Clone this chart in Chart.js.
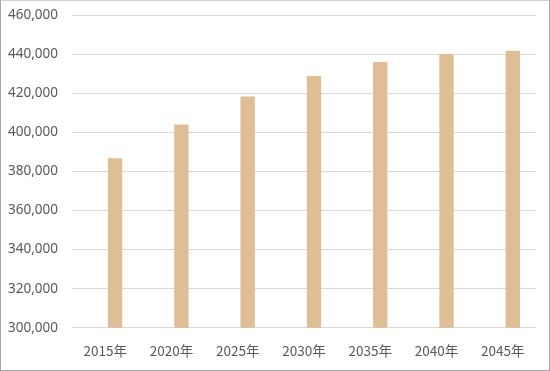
<!DOCTYPE html>
<html>
<head>
<meta charset="utf-8">
<script src="https://cdn.jsdelivr.net/npm/chart.js@4/dist/chart.umd.min.js"></script>
<style>
  html, body { margin: 0; padding: 0; background: #fff; }
  #wrap { width: 548px; height: 369px; border: 1px solid #a6a6a6; border-top-color: #d0d0d0; overflow: hidden; }
  canvas { display: block; }
</style>
</head>
<body>
<div id="wrap"><canvas id="chart1" width="548" height="373"></canvas></div>
<script>
const years = ['2015年', '2020年', '2025年', '2030年', '2035年', '2040年', '2045年'];
// 元グラフは2系列で1系列目が空のため、棒が目盛の右側にずれている
const emptySeries = [null, null, null, null, null, null, null];
const population = [386800, 404000, 418400, 428900, 436000, 440100, 441700];
const yMin = 300000;
const yMax = 460000;
const yStep = 20000;

const ctx = document.getElementById('chart1').getContext('2d');
new Chart(ctx, {
    type: 'bar',
    data: {
        labels: years,
        datasets: [{
            data: emptySeries,
            backgroundColor: 'rgba(0,0,0,0)',
            categoryPercentage: 0.6,
            barPercentage: 0.72
        }, {
            data: population,
            backgroundColor: '#dfbd95',
            categoryPercentage: 0.6,
            barPercentage: 0.72
        }]
    },
    options: {
        responsive: false,
        animation: false,
        layout: { padding: { left: 7, right: 13, top: 0, bottom: 0 } },
        plugins: {
            legend: { display: false },
            tooltip: { enabled: false }
        },
        scales: {
            x: {
                grid: { display: false, drawTicks: false },
                border: { display: false },
                ticks: {
                    color: '#595959',
                    font: { family: "'Noto Sans CJK JP', 'Noto Sans', sans-serif", size: 13.5 },
                    padding: 15
                }
            },
            y: {
                min: yMin,
                max: yMax,
                grid: { color: '#d9d9d9', lineWidth: 1, drawTicks: false },
                border: { display: false },
                afterFit: s => { s.width = 64; },
                ticks: {
                    stepSize: yStep,
                    color: '#595959',
                    padding: 6,
                    crossAlign: 'far',
                    font: { family: "'Noto Sans', sans-serif", size: 13.5 },
                    callback: v => v.toLocaleString('en-US')
                }
            }
        }
    }
});
</script>
</body>
</html>
